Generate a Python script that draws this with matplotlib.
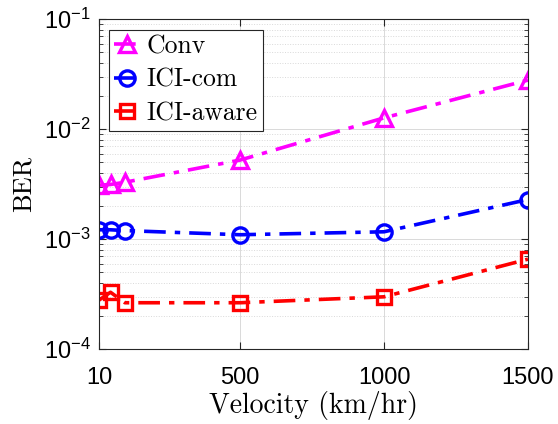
import matplotlib
matplotlib.use("Agg")
import matplotlib.pyplot as plt
from matplotlib.ticker import LogLocator, NullFormatter, FixedLocator

plt.rcParams['mathtext.fontset'] = 'custom'
plt.rcParams['mathtext.rm'] = 'Liberation Sans'
plt.rcParams['mathtext.it'] = 'Liberation Sans'
plt.rcParams['font.family'] = ['Liberation Sans', 'DejaVu Sans']

velocity = [10, 50, 100, 500, 1000, 1500]
ber_conv = [3.1e-3, 3.15e-3, 3.3e-3, 5.25e-3, 1.27e-2, 2.8e-2]
ber_icicom = [1.22e-3, 1.22e-3, 1.2e-3, 1.1e-3, 1.17e-3, 2.3e-3]
ber_iciaware = [2.8e-4, 3.3e-4, 2.65e-4, 2.65e-4, 3.0e-4, 6.6e-4]
labels = ['Conv', 'ICI-com', 'ICI-aware']
xticks = [10, 500, 1000, 1500]

fig = plt.figure(figsize=(5.58, 4.24), dpi=100)
ax = fig.add_axes([0.1774, 0.1762, 0.9462 - 0.1774, 0.9545 - 0.1762])

styles = [dict(color=(1, 0, 1), marker='^', ms=12),
          dict(color=(0, 0, 1), marker='o', ms=11),
          dict(color=(1, 0, 0), marker='s', ms=9.5)]
for ys, lab, st in zip([ber_conv, ber_icicom, ber_iciaware], labels, styles):
    ax.plot(velocity, ys, linestyle='-.', linewidth=2.6, marker=st['marker'],
            color=st['color'], markerfacecolor='none', markeredgewidth=2.4,
            markersize=st['ms'], label=lab,
            dashes=(6, 2.5, 1.5, 2.5))

ax.set_yscale('log')
ax.set_xlim(10, 1500)
ax.set_ylim(1e-4, 1e-1)
ax.xaxis.set_major_locator(FixedLocator(xticks))
ax.set_xticklabels([str(t) for t in xticks])
ax.yaxis.set_major_locator(LogLocator(base=10, numticks=10))
ax.yaxis.set_minor_locator(LogLocator(base=10, subs=range(2, 10), numticks=100))
ax.yaxis.set_minor_formatter(NullFormatter())

axcol = (0.15, 0.15, 0.15)
for sp in ax.spines.values():
    sp.set_color(axcol)
    sp.set_linewidth(0.8)
ax.tick_params(which='both', direction='in', top=True, right=True, colors=axcol,
               labelcolor='black', labelsize=17)
ax.tick_params(which='major', length=5)
ax.tick_params(which='minor', length=3)
ax.tick_params(axis='x', pad=13)
ax.tick_params(axis='y', pad=6)

ax.grid(True, which='major', color=(0.85, 0.85, 0.85), linewidth=0.7)
ax.grid(True, which='minor', axis='y', color=(0.85, 0.85, 0.85), linewidth=0.7, linestyle=':')
ax.set_axisbelow(True)

ax.set_xlabel('Velocity (km/hr)', family='cmr10', fontsize=20, labelpad=1)
ax.set_ylabel('BER', family='cmr10', fontsize=19, labelpad=6)

leg = ax.legend(loc='upper left', prop={'family': 'cmr10', 'size': 18.5},
                frameon=True, fancybox=False, edgecolor=axcol, framealpha=1,
                borderpad=0.2, labelspacing=0.38, handlelength=1.0,
                handletextpad=0.25, borderaxespad=0.4)
leg.get_frame().set_linewidth(0.8)

fig.savefig('out.png', dpi=100)
